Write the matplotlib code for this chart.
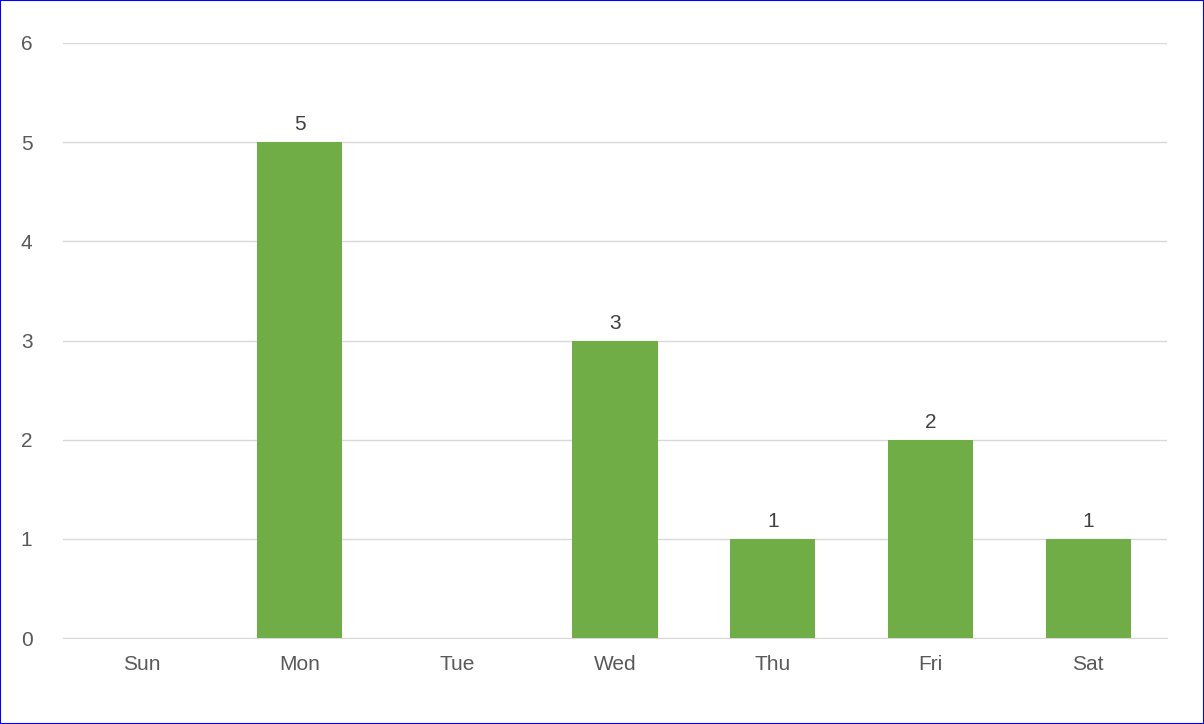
import matplotlib
matplotlib.use("Agg")
import matplotlib.pyplot as plt
from matplotlib.patches import Rectangle

days = ["Sun", "Mon", "Tue", "Wed", "Thu", "Fri", "Sat"]
counts = [0, 5, 0, 3, 1, 2, 1]

plt.rcParams['font.family'] = ['Liberation Sans', 'DejaVu Sans']
fig = plt.figure(figsize=(12.04, 7.24), dpi=100)
ax = fig.add_axes([63/1204, 1-638/724, (1167-63)/1204, (638-43)/724])
x = range(len(days))
bars = ax.bar(x, counts, width=0.54, color="#70AD47", zorder=3)
for xi, v in zip(x, counts):
    if v > 0:
        ax.text(xi, v + 0.08, str(v), ha="center", va="bottom", fontsize=15, color="#404040")
ax.set_xlim(-0.5, 6.5)
ax.set_ylim(0, 6)
ax.set_yticks(range(7))
ax.set_xticks(list(x))
ax.set_xticklabels(days)
ax.yaxis.grid(True, color="#D9D9D9", linewidth=1, zorder=0)
for s in ["top", "right", "left"]:
    ax.spines[s].set_visible(False)
ax.spines["bottom"].set_color("#D9D9D9")
ax.tick_params(axis="both", length=0, labelsize=15, colors="#595959")
ax.tick_params(axis="x", pad=12)
ax.tick_params(axis="y", pad=22)
fig.patches.append(Rectangle((0, 0), 1, 1, transform=fig.transFigure, fill=False,
                             edgecolor="#0000FF", linewidth=1.5))
fig.savefig("out.png", dpi=100)
